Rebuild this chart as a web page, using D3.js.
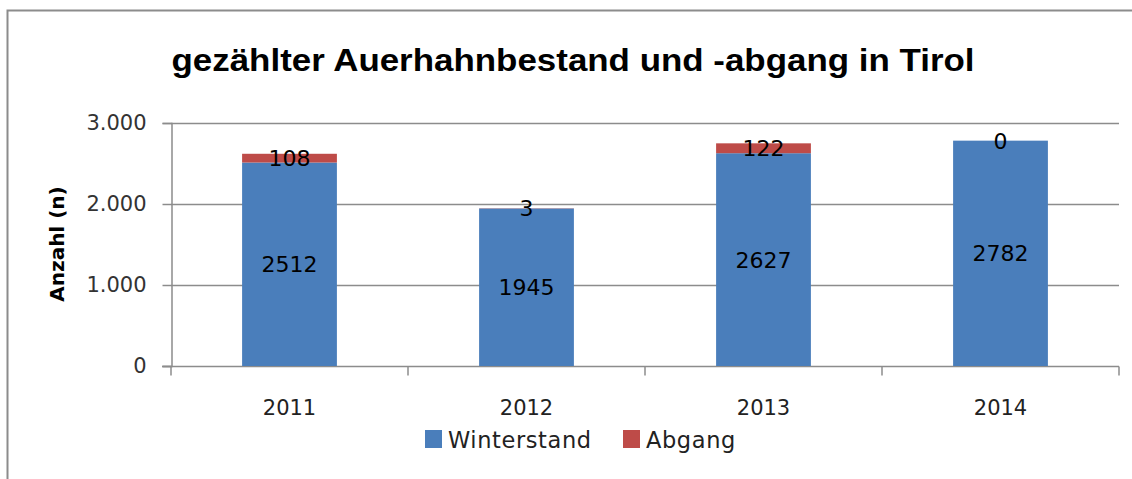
<!DOCTYPE html>
<html>
<head>
<meta charset="utf-8">
<script src="https://cdn.jsdelivr.net/npm/d3@7"></script>
<style>
  body { margin: 0; background: #fff; }
  svg { display: block; }
</style>
</head>
<body>
<div id="chart"></div>
<script>
// chart data
const years = ['2011', '2012', '2013', '2014'];
const winterstand = [2512, 1945, 2627, 2782];
const abgang = [108, 3, 122, 0];
const yTicks = [0, 1000, 2000, 3000];
const seriesNames = ['Winterstand', 'Abgang'];
const seriesColors = ['#4a7ebb', '#be4b48'];

const W = 1132, H = 479;
const margin = { top: 123, right: 13, bottom: 113, left: 171 };

const svg = d3.select('#chart').append('svg')
    .attr('width', W)
    .attr('height', H);

// outer chart frame (right / bottom edge run off the picture)
svg.append('rect')
    .attr('x', 7.5).attr('y', 10.5)
    .attr('width', W + 20).attr('height', H + 20)
    .attr('fill', 'none')
    .attr('stroke', '#8c8c8c')
    .attr('stroke-width', 2);

const x = d3.scaleBand()
    .domain(years)
    .range([margin.left, W - margin.right])
    .paddingInner(0.6)
    .paddingOuter(0.3);

const y = d3.scaleLinear()
    .domain([0, 3000])
    .range([H - margin.bottom, margin.top]);

const fmt = d3.formatLocale({ decimal: ',', thousands: '.', grouping: [3], currency: ['', '€'] }).format(',');

// gridlines
svg.append('g')
  .selectAll('line')
  .data(yTicks.slice(1))
  .enter().append('line')
    .attr('x1', margin.left).attr('x2', W - margin.right)
    .attr('y1', d => Math.round(y(d)) + 0.5).attr('y2', d => Math.round(y(d)) + 0.5)
    .attr('stroke', '#8c8c8c')
    .attr('stroke-width', 1.5);

// y axis
const yAxis = svg.append('g')
    .attr('transform', `translate(${margin.left + 0.5},0)`)
    .call(d3.axisLeft(y).tickValues(yTicks).tickFormat(fmt).tickSize(9).tickPadding(16));
yAxis.selectAll('line, path').attr('stroke', '#8c8c8c').attr('stroke-width', 1.5);
yAxis.selectAll('text')
    .attr('font-family', 'DejaVu Sans')
    .attr('font-size', 21)
    .attr('fill', '#333');

// x axis with boundary ticks between categories
const xAxisG = svg.append('g')
    .attr('transform', `translate(0,${y(0) + 0.5})`);
xAxisG.append('line')
    .attr('x1', margin.left - 9).attr('x2', W - margin.right)
    .attr('stroke', '#8c8c8c').attr('stroke-width', 1.5);
const step = x.step();
const bounds = years.map((d, i) => margin.left + i * step).concat([W - margin.right]);
xAxisG.selectAll('line.bound')
  .data(bounds)
  .enter().append('line')
    .attr('class', 'bound')
    .attr('x1', d => d).attr('x2', d => d)
    .attr('y1', 0).attr('y2', 9)
    .attr('stroke', '#8c8c8c').attr('stroke-width', 1.5);
xAxisG.selectAll('text')
  .data(years)
  .enter().append('text')
    .attr('x', d => x(d) + x.bandwidth() / 2)
    .attr('y', 48)
    .attr('text-anchor', 'middle')
    .attr('font-family', 'DejaVu Sans')
    .attr('font-size', 21)
    .attr('fill', '#222')
    .text(d => d);

// stacked bars
const rows = years.map((yr, i) => ({ year: yr, Winterstand: winterstand[i], Abgang: abgang[i] }));
const stacked = d3.stack().keys(seriesNames)(rows);

const layer = svg.selectAll('g.layer')
  .data(stacked)
  .enter().append('g')
    .attr('class', 'layer')
    .attr('fill', (d, i) => seriesColors[i]);

layer.selectAll('rect')
  .data(d => d)
  .enter().append('rect')
    .attr('x', d => x(d.data.year))
    .attr('width', x.bandwidth())
    .attr('y', d => y(d[1]))
    .attr('height', d => y(d[0]) - y(d[1]));

// data labels
layer.selectAll('text')
  .data(d => d.map(p => ({ p, key: d.key })))
  .enter().append('text')
    .attr('x', d => x(d.p.data.year) + x.bandwidth() / 2)
    .attr('y', d => (y(d.p[0]) + y(d.p[1])) / 2)
    .attr('dy', '0.36em')
    .attr('text-anchor', 'middle')
    .attr('font-family', 'DejaVu Sans')
    .attr('font-size', 22)
    .attr('fill', '#000')
    .text(d => d.p.data[d.key]);

// title
svg.append('text')
    .attr('x', 573)
    .attr('y', 71)
    .attr('text-anchor', 'middle')
    .attr('font-family', 'Liberation Sans')
    .attr('font-weight', 'bold')
    .attr('font-size', 31)
    .attr('textLength', 803)
    .attr('lengthAdjust', 'spacingAndGlyphs')
    .attr('fill', '#000')
    .text('gezählter Auerhahnbestand und -abgang in Tirol');

// y axis title
svg.append('text')
    .attr('transform', 'translate(64,244) rotate(-90)')
    .attr('text-anchor', 'middle')
    .attr('font-family', 'DejaVu Sans')
    .attr('font-weight', 'bold')
    .attr('font-size', 20)
    .attr('fill', '#000')
    .text('Anzahl (n)');

// legend
const legendX = [425, 623];
const legend = svg.selectAll('g.legend')
  .data(seriesNames)
  .enter().append('g')
    .attr('class', 'legend')
    .attr('transform', (d, i) => `translate(${legendX[i]},430)`);
legend.append('rect')
    .attr('width', 17).attr('height', 18)
    .attr('fill', (d, i) => seriesColors[i]);
legend.append('text')
    .attr('x', 23)
    .attr('y', 18)
    .attr('font-family', 'DejaVu Sans')
    .attr('font-size', 22.5)
    .attr('letter-spacing', 0.6)
    .attr('fill', '#222')
    .text(d => d);
</script>
</body>
</html>
